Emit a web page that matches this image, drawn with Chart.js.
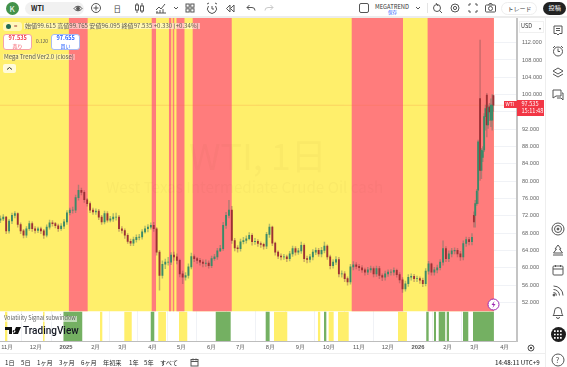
<!DOCTYPE html>
<html lang="ja">
<head>
<meta charset="utf-8">
<title>WTI</title>
<script src="https://cdn.jsdelivr.net/npm/chart.js@4/dist/chart.umd.js"></script>
<style>
html, body { margin: 0; padding: 0; background: #fff; overflow: hidden; }
body { width: 567px; height: 367px; position: relative; font-family: "Noto Sans CJK JP", "Noto Sans", sans-serif; color: #333; filter: blur(0.3px); }
#c { position: absolute; left: 0; top: 18px; }
.t { position: absolute; white-space: nowrap; line-height: 1; }
.i { position: absolute; fill: none; stroke: #555; stroke-width: 1; }
.box { position: absolute; box-sizing: border-box; }
</style>
</head>
<body>
<canvas id="c" width="545" height="335"></canvas>

<!-- top toolbar -->
<div class="box" style="left:0;top:16px;width:567px;height:2px;background:#ececec"></div>
<div class="box" style="left:6px;top:2px;width:13px;height:13px;border-radius:50%;background:#43924a"></div>
<div class="t" style="left:9.5px;top:4.5px;font-size:8px;color:#fff">K</div>
<div class="box" style="left:25px;top:2px;width:59px;height:13px;border-radius:7px;background:#f1f1f1"></div>
<div class="t" style="left:31px;top:5px;font-size:7px;font-weight:700;color:#222">WTI</div>
<svg class="i" style="left:73px;top:4px" width="10" height="9"><path d="M1 4.5C3 1.5 7 1.5 9 4.5 7 7.5 3 7.5 1 4.5z"/><circle cx="5" cy="4.5" r="1.5" fill="#555"/></svg>
<svg class="i" style="left:90px;top:2px" width="12" height="12"><circle cx="6" cy="6" r="4.5"/><path d="M6 3.5v5M3.5 6h5"/></svg>
<div class="t" style="left:113.5px;top:4.5px;font-size:7.5px;color:#444">日</div>
<svg class="i" style="left:134px;top:2px" width="11" height="12"><path d="M3 1v10M8 1v10"/><rect x="1.5" y="3" width="3" height="5" fill="#fff"/><rect x="6.5" y="4" width="3" height="5" fill="#fff"/></svg>
<svg class="i" style="left:155px;top:2px" width="12" height="12"><path d="M1 11h10M1 8l3-3 2 2 4-5M2 11V9M5 11V8M8 11V7"/></svg>
<svg class="i" style="left:173px;top:6px" width="6" height="5"><path d="M1 1l2 2 2-2"/></svg>
<svg class="i" style="left:185px;top:3px" width="10" height="10"><rect x="1" y="1" width="3.2" height="3.2"/><rect x="5.8" y="1" width="3.2" height="3.2"/><rect x="1" y="5.8" width="3.2" height="3.2"/><rect x="5.8" y="5.8" width="3.2" height="3.2"/></svg>
<svg class="i" style="left:206px;top:2px" width="12" height="12"><path d="M2.5 4a4.5 4.5 0 1 0 7 0M1 2l2-1M11 2L9 1M6 4v3h2"/></svg>
<svg class="i" style="left:225px;top:4px" width="10" height="9"><path d="M5 1L1.5 4.5 5 8zM9 1L5.5 4.5 9 8z"/></svg>
<svg class="i" style="left:246px;top:4px" width="10" height="8"><path d="M3.5 1L1 3.5 3.5 6M1 3.5h5a3 3 0 0 1 3 3"/></svg>
<svg class="i" style="left:264px;top:4px;stroke:#c9c9c9" width="10" height="8"><path d="M6.5 1L9 3.5 6.5 6M9 3.5H4a3 3 0 0 0-3 3"/></svg>
<svg class="i" style="left:359px;top:3px" width="10" height="10"><rect x="0.5" y="0.5" width="9" height="9" rx="1.5"/></svg>
<div class="t" style="left:375px;top:3.5px;font-size:5.8px;color:#333">MEGATREND</div>
<div class="t" style="left:388px;top:9.5px;font-size:4.5px;color:#2962ff">保存</div>
<svg class="i" style="left:415px;top:6px" width="6" height="5"><path d="M1 1l2 2 2-2"/></svg>
<div class="box" style="left:427px;top:3px;width:1px;height:10px;background:#e4e4e4"></div>
<svg class="i" style="left:432px;top:2px" width="11" height="12"><circle cx="5" cy="6" r="3.5"/><path d="M7.5 8.5L10 11M4 1l2 3"/></svg>
<svg class="i" style="left:450px;top:3px" width="10" height="10"><circle cx="5" cy="5" r="4"/><circle cx="5" cy="5" r="1.6"/></svg>
<svg class="i" style="left:468px;top:3px" width="10" height="10"><path d="M1 3V1h2M7 1h2v2M9 7v2H7M3 9H1V7"/></svg>
<svg class="i" style="left:485px;top:3px" width="11" height="10"><rect x="0.5" y="2" width="10" height="7" rx="1"/><circle cx="5.5" cy="5.5" r="2"/><path d="M3.5 2l1-1.5h2l1 1.5"/></svg>
<div class="box" style="left:501px;top:2px;width:36px;height:13px;border:1px solid #eee;border-radius:7px"></div>
<div class="t" style="left:507.5px;top:5.5px;font-size:6px;color:#444">トレード</div>
<div class="box" style="left:543px;top:2px;width:23px;height:13px;border-radius:7px;background:#222"></div>
<div class="t" style="left:548.5px;top:5px;font-size:6.2px;color:#fff">投稿</div>

<!-- legend -->
<div class="box" style="left:3px;top:22px;width:19px;height:9px;border-radius:3px;background:rgba(255,255,255,.55)"></div>
<div class="box" style="left:6px;top:24px;width:5px;height:5px;border-radius:50%;background:#1f6b55"></div>
<div class="t" style="left:14px;top:23px;font-size:6px;color:#a03a3a">=</div>
<div class="t" style="left:24px;top:23px;padding:0 1px;font-size:6.1px;color:#5e5a48;background:rgba(255,255,255,.5)">始値99.615 高値99.765 安値96.095 終値97.535 +0.330 (+0.34%)</div>
<div class="box" style="left:3px;top:34px;width:29px;height:16px;border:1px solid #f5a3a9;border-radius:3px;background:#fff"></div>
<div class="t" style="left:8.5px;top:36px;font-size:5.6px;font-weight:700;color:#f23645">97.535</div>
<div class="t" style="left:12.5px;top:43px;font-size:5px;color:#f23645">売り</div>
<div class="t" style="left:36px;top:39px;font-size:4.8px;color:#555">0.120</div>
<div class="box" style="left:51px;top:34px;width:29px;height:16px;border:1px solid #a8bcf2;border-radius:3px;background:#fff"></div>
<div class="t" style="left:56.5px;top:36px;font-size:5.6px;font-weight:700;color:#2962ff">97.655</div>
<div class="t" style="left:60.5px;top:43px;font-size:5px;color:#2962ff">買い</div>
<div class="t" style="left:3px;top:54px;padding:0 1px;font-size:5.9px;color:#555;background:rgba(255,255,255,.35)">Mega Trend Ver2.0 (close)</div>
<div class="box" style="left:3px;top:64px;width:13px;height:9px;border-radius:2px;background:rgba(255,255,255,.75)"></div>
<svg class="i" style="left:6px;top:66px;stroke:#333" width="7" height="5"><path d="M1 3.5l2.5-2 2.5 2"/></svg>

<!-- watermark -->
<div class="t" style="left:189px;top:136px;font-size:36px;color:rgba(90,70,0,.03)">WTI, 1日</div>
<div class="t" style="left:106px;top:179px;font-size:15.2px;color:rgba(90,70,0,.03)">West Texas Intermediate Crude Oil cash</div>

<!-- sub window -->
<div class="t" style="left:3px;top:316px;padding:0 1px;font-size:5.6px;color:#666;background:rgba(255,255,255,.55)">Volatility Signal subwindow</div>
<svg style="position:absolute;left:5px;top:327px" width="17" height="9"><path fill="#111" d="M0 0h7v7H4V3H0zM8 7l3-7h5l-3 7zM9 3a1.4 1.4 0 1 0 .1 0z"/></svg>
<div class="t" style="left:23px;top:326px;font-size:10px;font-weight:500;color:#131722;font-family:Roboto">TradingView</div>
<svg style="position:absolute;left:487px;top:298px" width="13" height="13"><circle cx="6.5" cy="6.5" r="5.5" fill="#fff" stroke="#9c27b0"/><path fill="#9c27b0" d="M7.5 3L4.5 7h2l-1 3 3-4h-2z"/></svg>

<!-- price axis bits -->
<div class="box" style="left:519px;top:21px;width:25px;height:12px;background:#fff;border:1px solid #f0f0f0"></div>
<div class="t" style="left:521px;top:24px;font-size:5.5px;color:#333">USD</div>
<div class="t" style="left:538.5px;top:25.5px;font-size:4px;color:#555">▾</div>
<div class="box" style="left:504px;top:101px;width:13px;height:7px;background:#f23645"></div>
<div class="t" style="left:505.5px;top:102px;font-size:4.8px;color:#fff">WTI</div>
<div class="box" style="left:517px;top:100px;width:27px;height:16px;background:#f23645"></div>
<div class="t" style="left:521.5px;top:101.5px;font-size:5.6px;color:#fff">97.535</div>
<div class="t" style="left:521.5px;top:108.5px;font-size:5.6px;color:#fff">15:11:48</div>
<svg class="i" style="left:527px;top:344px" width="8" height="8"><circle cx="4" cy="4" r="3"/><path d="M2.7 2.7l2.6 2.6M5.3 2.7L2.7 5.3"/></svg>

<!-- right rail -->
<div class="box" style="left:545px;top:18px;width:1px;height:349px;background:#eee"></div>
<svg class="i" style="left:553px;top:25px" width="10" height="11"><path d="M1 1h8v7.5H6.5L5 10 3.5 8.5H1zM3 3.5h4M3 5.5h4"/></svg>
<svg class="i" style="left:552px;top:45px" width="12" height="12"><circle cx="6" cy="6.5" r="4.5"/><path d="M6 3.5v3h2M1 3l2-2M11 3L9 1"/></svg>
<svg class="i" style="left:552px;top:67px" width="12" height="11"><path d="M6 1l5 3-5 3-5-3zM1 7l5 3 5-3"/></svg>
<svg class="i" style="left:552px;top:89px" width="12" height="11"><path d="M1 1h8v6H4L1 9zM10 4h1v7l-2-2H5"/></svg>
<svg class="i" style="left:551px;top:222px" width="14" height="14"><circle cx="7" cy="7" r="6"/><circle cx="7" cy="7" r="3.5"/><circle cx="7" cy="7" r="1" fill="#555"/></svg>
<svg class="i" style="left:552px;top:244px" width="12" height="12"><path d="M6 1l3 4H7.5l3 4h-9l3-4H3zM1 11h10"/></svg>
<svg class="i" style="left:552px;top:264px" width="12" height="12"><rect x="1" y="2" width="10" height="9" rx="1"/><path d="M1 5h10M3.5 1v2M8.5 1v2"/></svg>
<svg class="i" style="left:552px;top:285px" width="12" height="12"><path d="M1.5 1a9.5 9.5 0 0 1 9.5 9.5M1.5 4.5A6 6 0 0 1 7.5 10.5M1.5 7.5a3 3 0 0 1 3 3"/><circle cx="2" cy="10" r="1" fill="#555"/></svg>
<svg class="i" style="left:552px;top:306px" width="12" height="13"><path d="M6 1.5a3.5 3.5 0 0 1 3.5 3.5c0 3 1.5 4.5 1.5 4.5H1S2.5 8 2.5 5A3.5 3.5 0 0 1 6 1.5zM4.5 11a1.5 1.5 0 0 0 3 0"/></svg>
<div class="box" style="left:551px;top:327px;width:15px;height:15px;border-radius:50%;background:#1e1e1e"></div>
<svg style="position:absolute;left:554px;top:330px" width="9" height="9"><path fill="none" stroke="#fff" stroke-width="1.7" stroke-dasharray="1.7 1.3" d="M0 1.2h9M0 4.5h9M0 7.8h9"/></svg>
<svg class="i" style="left:551px;top:353px" width="14" height="14"><circle cx="7" cy="7" r="6"/></svg>
<div class="t" style="left:555.5px;top:356px;font-size:8px;color:#555">?</div>

<!-- bottom bar -->
<div class="box" style="left:0;top:353px;width:545px;height:1px;background:#eee"></div>
<div id="ranges"></div>
<svg class="i" style="left:190px;top:358px" width="9" height="9"><rect x="1" y="1.5" width="7" height="6.5"/><path d="M1 3.5h7M3 .5v2M6 .5v2"/></svg>
<div class="t" style="left:495px;top:360px;font-size:6.1px;font-weight:500;color:#333">14:48:11 UTC+9</div>

<script>
// all x values are days counted from 2025-01-01
const xMin = -68.4;
const xMax = 467.7;

// month ticks of the time axis
const monthDays = [-61, -31, 0, 31, 59, 90, 120, 151, 181, 212, 243, 273, 304, 334, 365, 396, 424, 455];
const monthLabels = ['11月', '12月', '2025', '2月', '3月', '4月', '5月', '6月', '7月', '8月', '9月', '10月', '11月', '12月', '2026', '2月', '3月', '4月'];
const priceTicks = [52, 56, 60, 64, 68, 72, 76, 80, 84, 88, 92, 96, 100, 104, 108, 112];
const lastPrice = 97.535;

// Mega Trend background: red spans, everything else yellow
const trendEnd = 443.8;
const redStarts = [2.8, 88.9, 106.8, 110.7, 114.6, 131.4, 296.3, 375];
const redEnds = [22.5, 93.4, 109.2, 112.3, 122.9, 171.9, 349.5, 443.8];

// Volatility Signal subwindow
const yellowStarts = [-63.2, -23.8, 35.3, 60.5, 95.7, 117.2, 215.7, 261.3, 272.4, 282.1, 344.3];
const yellowEnds = [-60.8, -22.2, 37.7, 68.2, 103.7, 125.8, 229.5, 263.7, 277.6, 293.2, 353.6];
const greenStarts = [-2.8, 87.9, 155.3, 207.1, 267.6, 373.6, 381.6, 386.5, 394.8, 411.7, 422.1];
const greenEnds = [16.9, 91.6, 170.8, 211.2, 270, 376.1, 383.7, 393.3, 397.2, 417.2, 443.8];

// candles
const candleDays = [
  -68, -65, -62, -59, -56, -53, -50, -47, -44, -41, -38, -35, -32, -29, -26, -23, -20, -17, -14, -11,
  -8, -5, -2, 1, 4, 7, 10, 13, 16, 19, 22, 25, 28, 31, 34, 37, 40, 43, 46, 49,
  52, 55, 58, 61, 64, 67, 70, 73, 76, 79, 82, 85, 88, 91, 94, 97, 100, 103, 106, 109,
  112, 115, 118, 121, 124, 127, 130, 133, 136, 139, 142, 145, 148, 151, 154, 157, 160, 163, 166, 169,
  172, 175, 178, 181, 184, 187, 190, 193, 196, 199, 202, 205, 208, 211, 214, 217, 220, 223, 226, 229,
  232, 235, 238, 241, 244, 247, 250, 253, 256, 259, 262, 265, 268, 271, 274, 277, 280, 283, 286, 289,
  292, 295, 298, 301, 304, 307, 310, 313, 316, 319, 322, 325, 328, 331, 334, 337, 340, 343, 346, 349,
  352, 355, 358, 361, 364, 367, 370, 373, 376, 379, 382, 385, 388, 391, 394, 397, 400, 403, 406, 409,
  412, 415, 418, 421,
  423, 424.4, 426, 427.4, 429.4, 430.8, 432.2, 433.6, 435, 436.4, 437.8, 439.2, 440.6, 442, 443.2
];
const opens = [
  71.0, 71.3, 71.7, 68.5, 70.8, 72.1, 72.5, 70.0, 68.5, 67.5,
  69.0, 70.2, 69.0, 68.6, 69.0, 68.5, 67.5, 69.4, 70.4, 70.2,
  69.7, 69.0, 69.6, 70.6, 72.7, 73.3, 73.3, 76.2, 77.9, 77.4,
  75.7, 74.8, 73.3, 72.9, 73.1, 71.7, 70.6, 72.5, 71.0, 71.3,
  71.7, 71.7, 69.0, 68.6, 67.5, 66.1, 65.7, 66.5, 67.0, 67.1,
  68.3, 69.0, 69.4, 69.8, 69.0, 63.6, 58.2, 60.8, 61.3, 61.3,
  62.9, 62.5, 61.7, 58.6, 57.8, 58.2, 60.2, 62.6, 62.1, 61.7,
  61.3, 61.0, 61.1, 60.5, 62.1, 62.5, 63.9, 64.4, 69.8, 72.1,
  73.3, 66.3, 64.6, 64.4, 66.0, 66.3, 66.7, 67.5, 66.0, 66.1,
  65.6, 65.4, 65.0, 67.7, 69.4, 65.7, 63.6, 62.7, 62.5, 62.5,
  62.1, 63.2, 64.4, 63.6, 63.9, 65.2, 62.1, 61.9, 62.5, 63.6,
  64.0, 63.2, 64.0, 65.0, 62.5, 60.5, 61.3, 61.9, 58.6, 58.6,
  57.5, 56.7, 60.2, 60.7, 60.3, 60.0, 59.5, 59.0, 59.5, 59.8,
  58.6, 59.8, 58.2, 57.8, 58.6, 59.0, 59.0, 59.4, 58.4, 57.2,
  55.1, 56.3, 57.8, 58.0, 57.5, 57.5, 57.1, 56.3, 59.2, 60.9,
  59.0, 59.5, 60.0, 61.3, 64.4, 62.1, 63.2, 63.9, 64.0, 63.2,
  62.5, 65.6, 66.5, 66.0,
  72.1, 72.1, 74.8, 77.9, 99.1, 82.5, 85.5, 87.2, 94.9, 99.9, 93.0, 97.2, 94.1, 94.1, 99.8
];
const closes = [
  71.3, 71.7, 68.5, 70.8, 72.1, 72.5, 70.0, 68.5, 67.5, 69.0,
  70.2, 69.0, 68.6, 69.0, 68.5, 67.5, 69.4, 70.4, 70.2, 69.7,
  69.0, 69.6, 70.6, 72.7, 73.3, 73.3, 76.2, 77.9, 77.4, 75.7,
  74.8, 73.3, 72.9, 73.1, 71.7, 70.6, 72.5, 71.0, 71.3, 71.7,
  71.7, 69.0, 68.6, 67.5, 66.1, 65.7, 66.5, 67.0, 67.1, 68.3,
  69.0, 69.4, 69.8, 69.0, 63.6, 58.2, 60.8, 61.3, 61.3, 62.9,
  62.5, 61.7, 58.6, 57.8, 58.2, 60.2, 62.6, 62.1, 61.7, 61.3,
  61.0, 61.1, 60.5, 62.1, 62.5, 63.9, 64.4, 69.8, 72.1, 73.3,
  66.3, 64.6, 64.4, 66.0, 66.3, 66.7, 67.5, 66.0, 66.1, 65.6,
  65.4, 65.0, 67.7, 69.4, 65.7, 63.6, 62.7, 62.5, 62.5, 62.1,
  63.2, 64.4, 63.6, 63.9, 65.2, 62.1, 61.9, 62.5, 63.6, 64.0,
  63.2, 64.0, 65.0, 62.5, 60.5, 61.3, 61.9, 58.6, 58.6, 57.5,
  56.7, 60.2, 60.7, 60.3, 60.0, 59.5, 59.0, 59.5, 59.8, 58.6,
  59.8, 58.2, 57.8, 58.6, 59.0, 59.0, 59.4, 58.4, 57.2, 55.1,
  56.3, 57.8, 58.0, 57.5, 57.5, 57.1, 56.3, 59.2, 60.9, 59.0,
  59.5, 60.0, 61.3, 64.4, 62.1, 63.2, 63.9, 64.0, 63.2, 62.5,
  65.6, 66.5, 66.0, 67.0,
  70.6, 74.8, 77.7, 89.1, 82.5, 87.2, 87.0, 94.9, 96.8, 93.0, 97.0, 96.0, 97.6, 97.6, 97.535
];
const highs = [
  72.0, 72.3, 71.9, 71.2, 72.6, 73.0, 72.7, 70.4, 68.9, 69.5,
  70.8, 70.6, 69.5, 69.4, 69.4, 68.9, 69.9, 71.0, 70.9, 70.5,
  70.1, 70.2, 71.2, 73.2, 73.8, 74.0, 76.8, 79.1, 78.4, 77.8,
  76.0, 75.2, 73.8, 73.6, 73.5, 72.1, 73.1, 73.0, 71.9, 72.5,
  72.6, 72.1, 69.5, 69.0, 67.9, 66.6, 67.1, 67.6, 67.7, 68.8,
  69.6, 70.0, 70.4, 70.5, 69.3, 64.0, 61.6, 62.0, 62.4, 63.5,
  63.6, 63.2, 62.0, 59.2, 58.9, 60.9, 63.4, 63.0, 62.4, 62.2,
  61.8, 61.8, 61.6, 62.7, 63.1, 64.5, 65.2, 70.5, 72.8, 75.6,
  74.2, 66.8, 65.1, 66.6, 67.0, 67.4, 68.1, 67.9, 66.8, 66.5,
  66.0, 65.7, 68.2, 70.1, 69.6, 65.9, 63.9, 63.2, 63.1, 62.9,
  63.8, 65.0, 64.9, 64.5, 65.9, 65.5, 62.7, 63.1, 64.2, 64.6,
  64.5, 64.7, 65.9, 65.3, 62.9, 61.9, 62.6, 62.4, 59.3, 59.1,
  57.9, 60.8, 61.4, 61.2, 60.8, 60.5, 59.9, 60.1, 60.4, 60.2,
  60.4, 60.3, 58.6, 59.2, 59.5, 59.6, 60.0, 59.7, 58.9, 57.7,
  56.9, 58.4, 58.6, 58.5, 58.1, 57.9, 57.6, 59.8, 61.5, 61.1,
  60.1, 60.6, 61.9, 66.2, 64.9, 63.9, 64.5, 64.6, 64.5, 63.8,
  66.2, 67.1, 67.0, 67.9,
  72.9, 75.6, 78.1, 89.5, 112.6, 87.6, 88.0, 95.6, 97.6, 100.3, 97.6, 98.0, 99.0, 100.0, 99.9
];
const lows = [
  70.4, 70.9, 67.9, 68.0, 70.2, 71.5, 69.4, 67.9, 66.9, 67.0,
  68.6, 68.4, 68.0, 68.1, 67.9, 66.8, 67.1, 68.9, 69.6, 69.2,
  68.4, 68.6, 69.0, 70.0, 72.2, 72.6, 72.7, 75.6, 76.8, 75.1,
  74.2, 72.7, 72.3, 72.3, 71.1, 70.0, 70.1, 70.5, 70.6, 70.7,
  71.0, 68.4, 68.0, 66.8, 65.6, 65.1, 65.1, 65.9, 66.4, 66.6,
  68.0, 68.3, 68.9, 68.4, 62.9, 54.8, 57.6, 59.8, 60.6, 60.7,
  61.7, 60.9, 57.9, 56.3, 57.1, 57.6, 59.7, 61.4, 61.0, 60.6,
  60.2, 60.3, 59.9, 60.0, 61.7, 61.9, 63.7, 64.0, 69.1, 71.5,
  65.6, 63.9, 63.6, 63.8, 65.5, 65.7, 66.4, 65.2, 65.4, 64.9,
  64.7, 64.3, 64.4, 67.0, 65.1, 62.9, 62.1, 61.8, 61.9, 61.4,
  61.6, 62.6, 62.9, 63.1, 63.3, 61.4, 61.1, 61.3, 61.8, 63.0,
  62.6, 62.5, 63.4, 61.9, 59.7, 59.9, 60.7, 57.9, 57.8, 56.8,
  56.0, 56.2, 59.5, 59.7, 59.3, 58.9, 58.3, 58.4, 58.9, 57.9,
  58.0, 57.5, 57.0, 57.1, 58.0, 58.3, 58.3, 57.8, 56.5, 54.3,
  54.6, 55.7, 57.1, 56.8, 56.8, 56.4, 55.6, 55.8, 58.5, 58.3,
  58.3, 58.8, 59.5, 60.6, 61.4, 61.4, 62.5, 63.2, 62.5, 61.7,
  61.8, 64.9, 65.3, 65.3,
  69.4, 69.4, 74.4, 74.8, 80.2, 80.6, 84.5, 86.8, 91.8, 90.2, 92.2, 94.0, 92.6, 91.8, 96.1
];

const rangeLabels = ['1日', '5日', '1ヶ月', '3ヶ月', '6ヶ月', '年初来', '1年', '5年', 'すべて'];
const rangeLefts = [5, 21, 37, 59, 81, 103, 129, 144, 160];
rangeLabels.forEach((label, i) => {
    const el = document.createElement('div');
    el.className = 't';
    el.style.cssText = 'left:' + rangeLefts[i] + 'px;top:360px;font-size:6.2px;color:#222';
    el.textContent = label;
    document.getElementById('ranges').appendChild(el);
});

const upColor = '#3a8a68';
const downColor = '#9c3034';
const isUp = ctx => closes[ctx.dataIndex] >= opens[ctx.dataIndex];

// a span list as a closed outline, filled down to the bottom of its pane
function bandPoints(starts, ends, floor, top) {
    const pts = [];
    starts.forEach((s, i) => {
        pts.push({x: s, y: floor}, {x: s, y: top}, {x: ends[i], y: top}, {x: ends[i], y: floor});
    });
    return pts;
}

function band(data, color, yAxisID, order) {
    return {
        type: 'line', data, yAxisID, order,
        borderWidth: 0, pointRadius: 0, tension: 0,
        backgroundColor: color, fill: 'start'
    };
}

// tick labels must not push the plot in from the canvas edge
function noPadding(scale) {
    scale.paddingTop = 0;
    scale.paddingBottom = 0;
    scale.paddingLeft = 0;
    scale.paddingRight = 0;
}

const priceMin = 49.9;
const priceMax = 117.7;

new Chart(document.getElementById('c'), {
    data: {
        datasets: [
            band(bandPoints([xMin], [trendEnd], priceMin, priceMax), '#ffef6b', 'y', 6),
            band(bandPoints(redStarts, redEnds, priceMin, priceMax), '#ff7c7c', 'y', 5),
            band(bandPoints(yellowStarts, yellowEnds, 0, 1), '#ffef6b', 'y2', 5),
            band(bandPoints(greenStarts, greenEnds, 0, 1), '#74b062', 'y2', 4),
            {
                type: 'line', order: 3, yAxisID: 'y',
                data: [{x: xMin, y: lastPrice}, {x: xMax, y: lastPrice}],
                borderColor: 'rgba(242,120,60,0.22)', borderWidth: 1, pointRadius: 0
            },
            {
                type: 'bar', order: 2, yAxisID: 'y', grouped: false,
                data: candleDays.map((d, i) => ({x: d, y: [lows[i], highs[i]]})),
                barThickness: 0.8,
                backgroundColor: ctx => isUp(ctx) ? 'rgba(80,125,105,0.45)' : 'rgba(140,85,85,0.45)'
            },
            {
                type: 'bar', order: 1, yAxisID: 'y', grouped: false,
                data: candleDays.map((d, i) => ({x: d, y: [opens[i], closes[i]]})),
                barThickness: 1.2,
                backgroundColor: ctx => isUp(ctx) ? upColor : downColor
            }
        ]
    },
    options: {
        responsive: false,
        animation: false,
        layout: {padding: 0},
        plugins: {legend: {display: false}, tooltip: {enabled: false}},
        scales: {
            x: {
                type: 'linear', offset: false, min: xMin, max: xMax,
                afterBuildTicks: scale => { scale.ticks = monthDays.map(v => ({value: v})); },
                afterFit: scale => { scale.height = 12; noPadding(scale); },
                grid: {color: '#f0f2f6', drawTicks: false},
                border: {color: '#bdbdbd', width: 1},
                ticks: {
                    autoSkip: false, maxRotation: 0, padding: 3, color: '#555',
                    font: ctx => ({size: 5.8, weight: String(monthLabels[ctx.index]).startsWith('20') ? '700' : '400'}),
                    callback: (v, i) => monthLabels[i]
                }
            },
            y: {
                position: 'right', stack: 'panes', stackWeight: 293,
                min: priceMin, max: priceMax,
                afterBuildTicks: scale => { scale.ticks = priceTicks.map(v => ({value: v})); },
                afterFit: scale => { scale.width = 28; noPadding(scale); },
                grid: {color: '#f0f2f6', drawTicks: false},
                border: {color: '#c4c4c4', width: 2},
                ticks: {
                    autoSkip: false, padding: 5, color: '#666', font: {size: 5.6},
                    callback: v => v.toFixed(3)
                }
            },
            y2: {
                position: 'right', stack: 'panes', stackWeight: 29.5,
                min: 0, max: 1,
                afterFit: scale => { scale.width = 28; noPadding(scale); },
                grid: {display: false},
                border: {color: '#c4c4c4', width: 2},
                ticks: {display: false}
            }
        }
    }
});
</script>
</body>
</html>
